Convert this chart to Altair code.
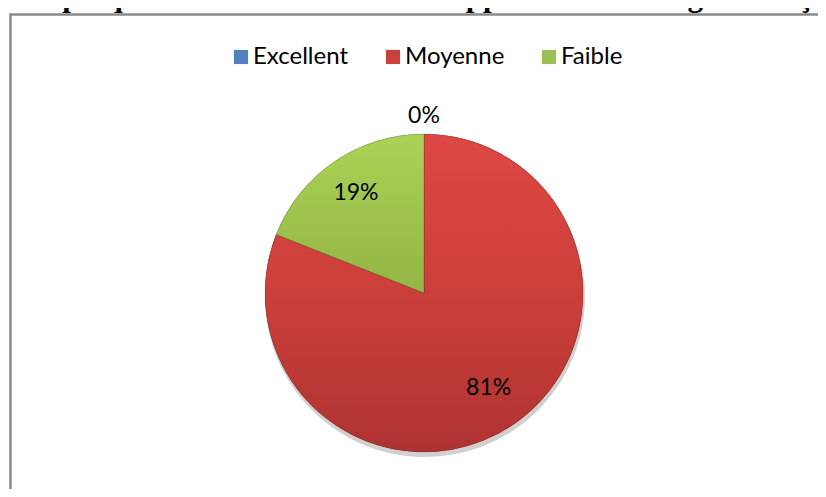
import altair as alt
import pandas as pd
import math

categories = ["Excellent", "Moyenne", "Faible"]
values = [0, 81, 19]
labels = ["0%", "81%", "19%"]
order_idx = [0, 1, 2]
colors = ["#4F81BD", "#C9413D", "#9EBE58"]
title_text = "Graphique n° 02 : : le niveau des apprenants en langue française"

df = pd.DataFrame({"cat": categories, "value": values, "label": labels, "idx": order_idx})
one = pd.DataFrame({"a": [0]})

W, H = 810, 481
CX, CY = 416, 285

red_grad = {"gradient": "linear", "x1": 0, "y1": 0, "x2": 0, "y2": 1,
            "stops": [{"offset": 0, "color": "#DE4844"},
                      {"offset": 0.5, "color": "#CB3F3B"},
                      {"offset": 1, "color": "#AE3330"}]}
green_grad = {"gradient": "linear", "x1": 0, "y1": 0, "x2": 0, "y2": 1,
              "stops": [{"offset": 0, "color": "#ABD255"},
                        {"offset": 1, "color": "#93B544"}]}

border = alt.Chart(one).mark_rect(fill=None, stroke="#8a8a8a", strokeWidth=2.5).encode(
    x=alt.value(2.5), x2=alt.value(1200), y=alt.value(6.5), y2=alt.value(900)
)

title = alt.Chart(one).mark_text(
    text=title_text, align="left", baseline="alphabetic",
    font="Liberation Serif", fontWeight="bold", fontSize=31, color="black"
).encode(x=alt.value(1), y=alt.value(-2))

shadow = alt.Chart(df).mark_arc(outerRadius=160, color="#777777", opacity=0.35).encode(
    theta=alt.Theta("value:Q", stack=True),
    x=alt.value(CX + 1), y=alt.value(CY + 4),
)

pie = alt.Chart(df).mark_arc(outerRadius=159).encode(
    theta=alt.Theta("value:Q", stack=True),
    order=alt.Order("idx:Q"),
    color=alt.Color(
        "cat:N",
        scale=alt.Scale(domain=categories, range=colors),
        sort=categories,
        legend=alt.Legend(
            title=None, orient="none", direction="horizontal",
            legendX=221, legendY=37,
            symbolType="square", symbolSize=200, symbolStrokeWidth=0,
            labelFont="Lato", labelFontSize=24, labelColor="black",
            columnPadding=32, labelOffset=0,
        ),
    ),
    x=alt.value(CX), y=alt.value(CY),
)

overlay = alt.Chart(df).mark_arc(outerRadius=159, stroke="black", strokeOpacity=0.18, strokeWidth=1).encode(
    theta=alt.Theta("value:Q", stack=True),
    order=alt.Order("idx:Q"),
    color=alt.condition("datum.cat == 'Moyenne'", alt.value(red_grad),
                        alt.value(green_grad)),
    x=alt.value(CX), y=alt.value(CY),
)

text = alt.Chart(df).transform_window(
    cum="sum(value)", sort=[alt.SortField("idx")]
).transform_calculate(
    mid="datum.cum - datum.value / 2",
    r="datum.value == 0 ? 177 : (datum.value > 50 ? 115 : 121)",
).mark_text(font="Lato", fontSize=23, color="black").encode(
    theta=alt.Theta("mid:Q", stack=False,
                    scale=alt.Scale(domain=[0, 100], range=[0, 2 * math.pi])),
    radius=alt.Radius("r:Q", scale=None),
    text="label:N",
    x=alt.value(CX), y=alt.value(CY),
)

chart = alt.layer(border, title, shadow, pie, overlay, text).properties(
    width=W, height=H, padding=0, autosize=alt.AutoSizeParams(type="none")
).configure_view(stroke=None)

chart.save("out.html", embed_options={"renderer": "svg", "actions": False})
